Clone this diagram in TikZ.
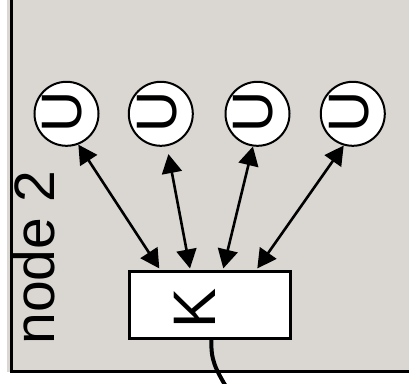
\documentclass[tikz,border=0pt]{standalone}
\usepackage{fontspec}
\setmainfont{Liberation Sans}
\usetikzlibrary{arrows.meta}
\definecolor{panel}{RGB}{218,215,210}
\tikzset{
  unitcircle/.style={circle, draw, line width=2pt, fill=white, minimum size=64pt, inner sep=0pt},
  glyph/.style={rotate=90, inner sep=0pt, font=\fontsize{57}{60}\selectfont},
  kbox/.style={draw, line width=3pt, fill=white, minimum width=161pt, minimum height=66.5pt, inner sep=0pt},
  link/.style={line width=2.6pt, {Triangle[length=19pt,width=20pt]}-{Triangle[length=19pt,width=20pt]}},
  frameline/.style={line width=3.2pt},
  wire/.style={line width=4pt}
}
\begin{document}
\begin{tikzpicture}[x=1pt,y=-1pt]
  \useasboundingbox (0,0) rectangle (409,383);
  \clip (0,0) rectangle (409,383);

  % panel background and its left/bottom border
  \fill[panel] (7,-2) rectangle (411,371.6);
  \draw[frameline] (11.6,-2) -- (11.6,371.6) -- (411,371.6);

  % panel title
  \node[glyph] (title) at (34.3,257.5) {node 2};

  % four U units
  \node[unitcircle] (u1) at (66.5,113.8) {};
  \node[unitcircle] (u2) at (160.8,113.8) {};
  \node[unitcircle] (u3) at (257.5,113.8) {};
  \node[unitcircle] (u4) at (352.8,113.8) {};
  \node[glyph] (u1t) at (62.5,112) {U};
  \node[glyph] (u2t) at (157,112) {U};
  \node[glyph] (u3t) at (253.5,112) {U};
  \node[glyph] (u4t) at (349,112) {U};

  % K box
  \node[kbox] (k) at (209.5,305.2) {};
  \node[glyph, font=\fontsize{60}{63}\selectfont] (kt) at (195,308) {K};

  % links between K and the units
  \draw[link] ([xshift=31.8pt,yshift=2pt]k.north west) -- (u1.291);
  \draw[link,shorten >=8pt] ([xshift=62.5pt,yshift=2pt]k.north west) -- (u2);
  \draw[link] ([xshift=95.8pt,yshift=2pt]k.north west) -- (u3.262.7);
  \draw[link] ([xshift=129.8pt,yshift=2pt]k.north west) -- (u4.254);

  % outgoing wire below the box
  \coordinate (wireend) at (228,390);
  \draw[wire] ([xshift=84pt,yshift=1.5pt]k.south west) .. controls (210.5,360) and (215,368) .. (wireend);
\end{tikzpicture}
\end{document}
